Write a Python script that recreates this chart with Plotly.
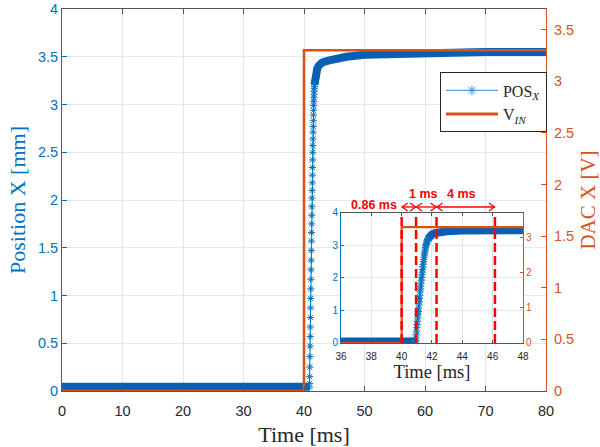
import plotly.graph_objects as go

# ---------------- data ----------------
# Position X [mm] – flat part before the step (thick noisy band)
t_pre = [0, 10, 20, 30, 40, 40.9]
pos_pre = [0.045, 0.047, 0.045, 0.045, 0.045, 0.045]

# Position X [mm] – individual samples during the fast rise
t_rise = [40.90, 40.92, 40.94, 40.96, 40.98, 41.00, 41.02, 41.04, 41.06, 41.08,
          41.10, 41.12, 41.14, 41.16, 41.18, 41.20, 41.22, 41.24, 41.26, 41.28,
          41.30, 41.32, 41.34, 41.36, 41.38, 41.40, 41.42, 41.44, 41.46, 41.48,
          41.50, 41.52, 41.54, 41.56, 41.58, 41.60, 41.62, 41.64, 41.66, 41.68,
          41.70, 41.72, 41.74]
pos_rise = [0.04, 0.08, 0.15, 0.25, 0.36, 0.47, 0.57, 0.67, 0.77, 0.87,
            0.97, 1.07, 1.17, 1.27, 1.37, 1.47, 1.57, 1.66, 1.75, 1.84,
            1.93, 2.02, 2.10, 2.18, 2.26, 2.34, 2.42, 2.50, 2.57, 2.64,
            2.71, 2.77, 2.83, 2.89, 2.94, 2.99, 3.03, 3.07, 3.11, 3.14,
            3.17, 3.19, 3.21]

# Position X [mm] – settling part after the rise (thick noisy band)
t_post = [41.74, 41.8, 41.9, 42.0, 42.2, 42.5, 43, 44, 45, 47, 50, 55, 60, 70, 80]
pos_post = [3.21, 3.26, 3.31, 3.34, 3.38, 3.41, 3.44, 3.46, 3.48, 3.50, 3.52,
            3.53, 3.54, 3.55, 3.55]

# DAC X [V] – input step
t_vin = [0, 40, 40, 80]
v_in = [0, 0, 3.3, 3.3]

# inset markers (ms) and interval labels
mark_times = [40.0, 40.95, 42.3, 46.15]
interval_labels = ["0.86 ms", "1 ms", "4 ms"]
label_x = [39.85, 41.47, 43.96]

# ---------------- styles ----------------
BLUE = "#0072BD"
BAND = "#0A5FB2"
ORANGE = "#D95319"
DARK = "#262626"
RED = "#FF0000"
GRIDX = "#E4E4E4"
GRIDY = "#DDEBF6"
SANS = "Liberation Sans, Arial, sans-serif"
SERIF = "Liberation Serif, Times New Roman, serif"

fig = go.Figure()

# main plot
for xs, ys in [(t_pre, pos_pre), (t_post, pos_post)]:
    fig.add_trace(go.Scatter(x=xs, y=ys, mode="lines", line=dict(color=BAND, width=8),
                             xaxis="x", yaxis="y", showlegend=False, hoverinfo="skip"))
fig.add_trace(go.Scatter(x=t_rise, y=pos_rise, mode="lines+markers",
                         line=dict(color=BLUE, width=1),
                         marker=dict(symbol="asterisk-open", size=6, color=BLUE,
                                     line=dict(color=BLUE, width=1)),
                         xaxis="x", yaxis="y", showlegend=False))
fig.add_trace(go.Scatter(x=t_vin, y=v_in, mode="lines", line=dict(color=ORANGE, width=2.6),
                         xaxis="x", yaxis="y2", showlegend=False))

# inset
for xs, ys in [(t_pre, pos_pre), (t_post, pos_post)]:
    fig.add_trace(go.Scatter(x=xs, y=ys, mode="lines", line=dict(color=BAND, width=8),
                             xaxis="x3", yaxis="y3", showlegend=False, hoverinfo="skip"))
fig.add_trace(go.Scatter(x=t_rise, y=pos_rise, mode="lines+markers",
                         line=dict(color=BLUE, width=1),
                         marker=dict(symbol="asterisk-open", size=6, color=BLUE,
                                     line=dict(color=BLUE, width=1)),
                         xaxis="x3", yaxis="y3", showlegend=False))
fig.add_trace(go.Scatter(x=t_vin, y=v_in, mode="lines", line=dict(color=ORANGE, width=2.2),
                         xaxis="x3", yaxis="y4", showlegend=False))

# legend entries
fig.add_trace(go.Scatter(x=[None], y=[None], mode="lines+markers", name="POS<sub><i>X</i></sub>",
                         line=dict(color="#3C8DD0", width=1),
                         marker=dict(symbol="asterisk-open", size=8, color="#3C8DD0",
                                     line=dict(color="#3C8DD0", width=1)),
                         xaxis="x", yaxis="y"))
fig.add_trace(go.Scatter(x=[None], y=[None], mode="lines", name="V<sub><i>IN</i></sub>",
                         line=dict(color=ORANGE, width=3), xaxis="x", yaxis="y"))

tickfont_main = dict(family=SANS, size=14.5)
tickfont_in = dict(family=SANS, size=10)

fig.update_layout(
    width=600, height=447,
    margin=dict(l=62, r=54, t=9, b=56),
    paper_bgcolor="white", plot_bgcolor="white",
    legend=dict(x=1.002, xanchor="right", y=0.834, yanchor="top", bgcolor="white",
                bordercolor=DARK, borderwidth=1, itemwidth=52, tracegroupgap=0,
                font=dict(family=SERIF, size=16, color=DARK)),
    xaxis=dict(domain=[0, 1], range=[0, 80], dtick=10, tick0=0, automargin=False,
               showgrid=True, gridcolor=GRIDX, gridwidth=1, zeroline=False,
               showline=True, linecolor="#555555", linewidth=1, mirror="ticks",
               ticks="inside", ticklen=5, tickcolor="#555555", ticklabelstandoff=7,
               tickfont=dict(color=DARK, **tickfont_main),
               title=dict(text="Time [ms]", font=dict(family=SERIF, size=22, color=DARK), standoff=8)),
    yaxis=dict(domain=[0, 1], range=[0, 4], dtick=0.5, tick0=0, automargin=False,
               showgrid=True, gridcolor=GRIDY, zeroline=False,
               showline=True, linecolor=BLUE, linewidth=1,
               ticks="inside", ticklen=5, tickcolor=BLUE,
               tickfont=dict(color=BLUE, **tickfont_main),
               title=dict(text="Position X [mm]", font=dict(family=SERIF, size=22, color=BLUE), standoff=6)),
    yaxis2=dict(overlaying="y", side="right", anchor="x", range=[0, 3.7], dtick=0.5, tick0=0,
                automargin=False, showgrid=False, zeroline=False,
                showline=True, linecolor=ORANGE, linewidth=1,
                ticks="inside", ticklen=5, tickcolor=ORANGE, ticklabelstandoff=4,
                tickfont=dict(color=ORANGE, **tickfont_main),
                title=dict(text="DAC X [V]", font=dict(family=SERIF, size=21, color=ORANGE), standoff=8)),
    xaxis3=dict(domain=[0.5764, 0.9525], anchor="y3", range=[36, 48], dtick=2, tick0=36,
                automargin=False, showgrid=True, gridcolor=GRIDX, zeroline=False,
                showline=True, linecolor="#555555", linewidth=1, mirror="ticks",
                ticks="inside", ticklen=3, tickcolor="#555555", ticklabelstandoff=4,
                tickfont=dict(color=DARK, **tickfont_in),
                title=dict(text="Time [ms]", font=dict(family=SERIF, size=18.5, color=DARK), standoff=2)),
    yaxis3=dict(domain=[0.1257, 0.466], anchor="x3", range=[0, 4], dtick=1, tick0=0,
                automargin=False, showgrid=True, gridcolor=GRIDY, zeroline=False,
                showline=True, linecolor=BLUE, linewidth=1,
                ticks="inside", ticklen=3, tickcolor=BLUE,
                tickfont=dict(color=BLUE, **tickfont_in)),
    yaxis4=dict(overlaying="y3", side="right", anchor="x3", range=[0, 3.7], dtick=1, tick0=0,
                automargin=False, showgrid=False, zeroline=False,
                showline=True, linecolor=ORANGE, linewidth=1,
                ticks="inside", ticklen=3, tickcolor=ORANGE,
                tickfont=dict(color=ORANGE, **tickfont_in)),
)

# white background for the inset
fig.add_shape(type="rect", xref="x3", yref="y3", x0=36, x1=48, y0=0, y1=4,
              fillcolor="white", line=dict(width=0), layer="below")

# red dashed timing markers in the inset
for t in mark_times:
    fig.add_shape(type="line", xref="x3", yref="y3", x0=t, x1=t, y0=0, y1=4,
                  line=dict(color=RED, width=2.5, dash="9px,4px"))

# double-headed interval arrows above the inset
ARROW_Y = 0.4817
for i in range(len(mark_times) - 1):
    t0, t1 = mark_times[i], mark_times[i + 1]
    fig.add_shape(type="line", xref="x3", yref="paper", x0=t0, x1=t1, y0=ARROW_Y, y1=ARROW_Y,
                  line=dict(color=RED, width=1.3))
    fig.add_shape(type="path", xref="x3", yref="paper", xsizemode="pixel", ysizemode="pixel",
                  xanchor=t0, yanchor=ARROW_Y, path="M 6,4 L 0.5,0 L 6,-4",
                  line=dict(color=RED, width=1.3))
    fig.add_shape(type="path", xref="x3", yref="paper", xsizemode="pixel", ysizemode="pixel",
                  xanchor=t1, yanchor=ARROW_Y, path="M -6,4 L -0.5,0 L -6,-4",
                  line=dict(color=RED, width=1.3))

label_y = [0.4882, 0.5144, 0.5144]
label_anchor = ["right", "center", "center"]
for txt, lx, ly, anc in zip(interval_labels, label_x, label_y, label_anchor):
    fig.add_annotation(x=lx, y=ly, xref="x3", yref="paper", text="<b>%s</b>" % txt,
                       showarrow=False, xanchor=anc, yanchor="middle",
                       font=dict(family=SANS, size=12.5, color=RED))

fig.write_html("out.html")
